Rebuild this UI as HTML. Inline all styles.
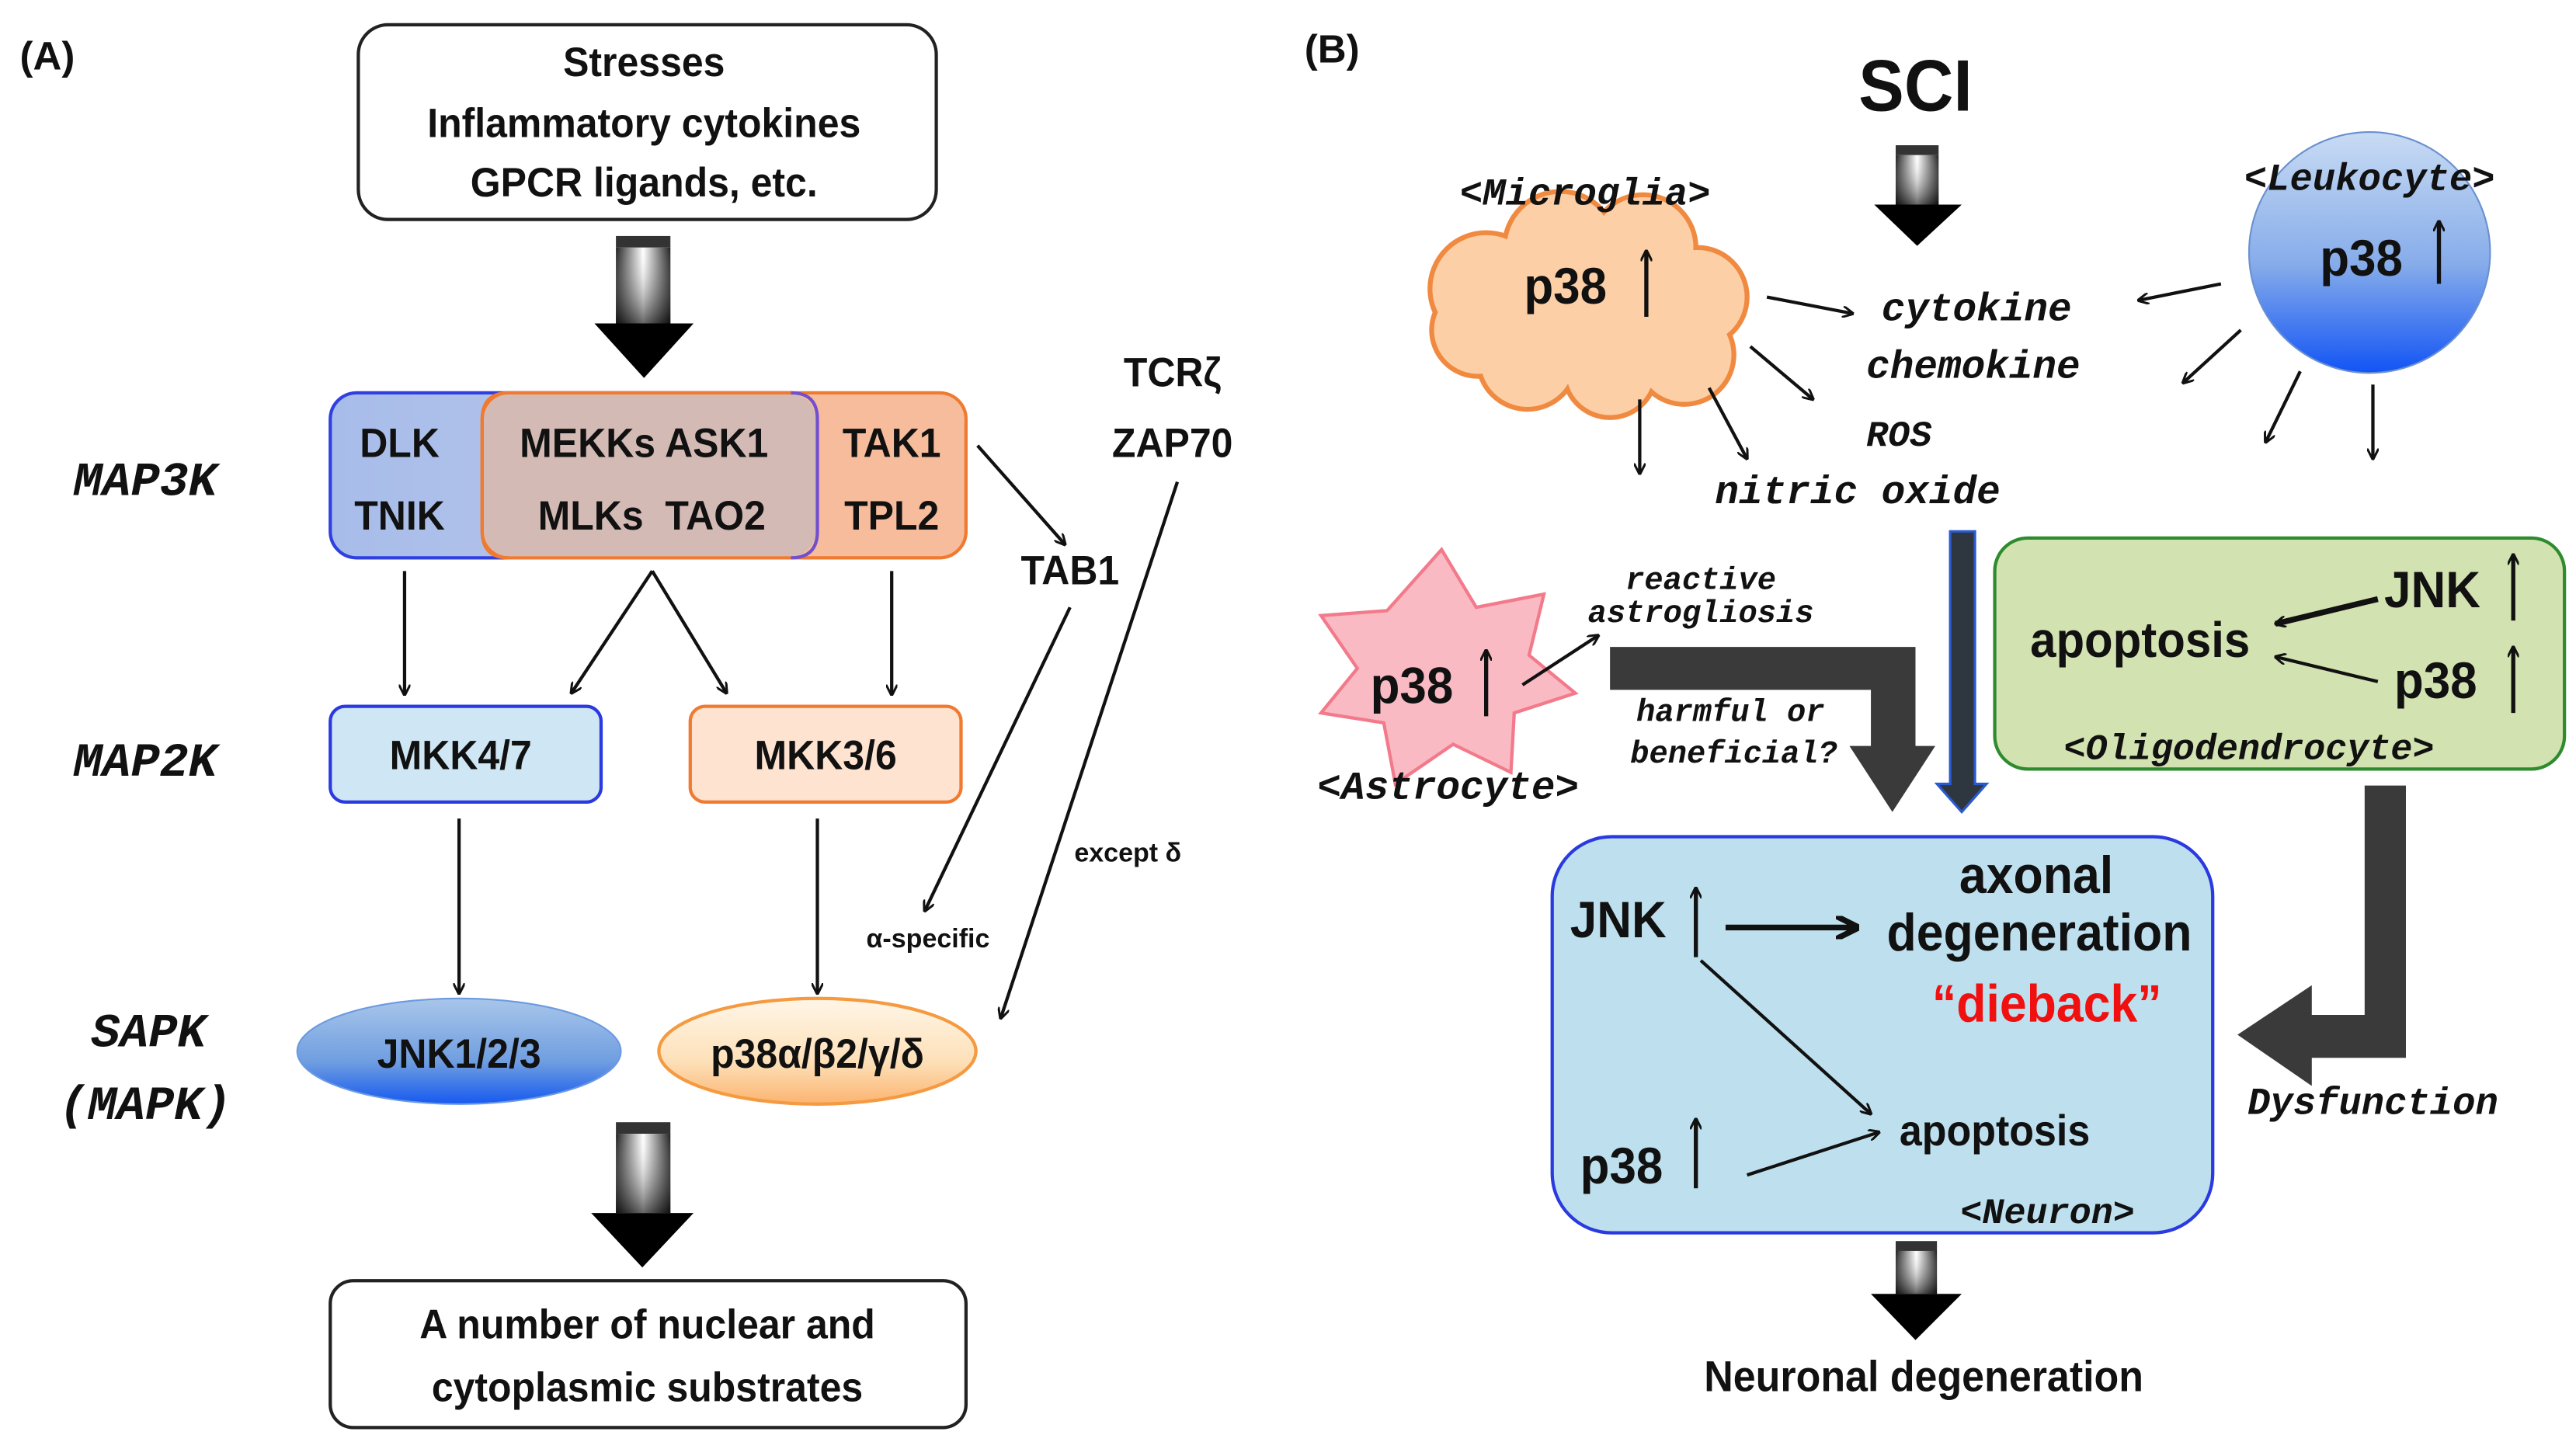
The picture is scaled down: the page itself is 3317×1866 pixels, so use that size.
<!DOCTYPE html>
<html><head><meta charset="utf-8"><style>
html,body{margin:0;padding:0;background:#fff}
svg{display:block}
.s{font-family:"Liberation Sans",sans-serif;font-weight:bold;fill:#111;text-anchor:middle}
.m{font-family:"Liberation Mono",monospace;font-weight:bold;font-style:italic;fill:#111;text-anchor:middle}
</style></head><body>
<svg width="3317" height="1866" viewBox="0 0 1560 878" preserveAspectRatio="none" xmlns="http://www.w3.org/2000/svg">
<defs>
<marker id="ah" viewBox="0 0 10 10" refX="9" refY="5" markerWidth="7" markerHeight="7" orient="auto-start-reverse" markerUnits="userSpaceOnUse"><path d="M0,0 L10,5 L0,10" fill="none" stroke="#111" stroke-width="2"/></marker>
<marker id="ah2" viewBox="0 0 10 10" refX="8" refY="5" markerWidth="14" markerHeight="14" orient="auto" markerUnits="userSpaceOnUse"><path d="M0,0 L10,5 L0,10" fill="none" stroke="#111" stroke-width="2.5"/></marker>
<linearGradient id="sh" x1="0" x2="1" y1="0" y2="0"><stop offset="0" stop-color="#222"/><stop offset="0.5" stop-color="#fff"/><stop offset="1" stop-color="#222"/></linearGradient>
<linearGradient id="shv" x1="0" x2="0" y1="0" y2="1"><stop offset="0" stop-color="#fff" stop-opacity="0"/><stop offset="1" stop-color="#000" stop-opacity="0.6"/></linearGradient>
<linearGradient id="jnk" x1="0" x2="0" y1="0" y2="1"><stop offset="0" stop-color="#a9c6ea"/><stop offset="0.6" stop-color="#6f9ee0"/><stop offset="1" stop-color="#1659f0"/></linearGradient>
<linearGradient id="p38" x1="0" x2="0" y1="0" y2="1"><stop offset="0" stop-color="#fff6e8"/><stop offset="0.6" stop-color="#fde0b8"/><stop offset="1" stop-color="#fbb470"/></linearGradient>
<linearGradient id="leu" x1="0" x2="0" y1="0" y2="1"><stop offset="0" stop-color="#c8dbf3"/><stop offset="0.55" stop-color="#86acea"/><stop offset="1" stop-color="#1254f5"/></linearGradient>
<linearGradient id="blu" x1="0" x2="1" y1="0" y2="0"><stop offset="0" stop-color="#a8bcea"/><stop offset="1" stop-color="#bccbe8"/></linearGradient>
</defs>

<!-- Panel A -->
<text x="12" y="42" class="s" style="text-anchor:start" font-size="24">(A)</text>
<rect x="217" y="15" width="350" height="118" rx="18" fill="#fff" stroke="#222" stroke-width="2"/>
<g transform="translate(390,0) scale(0.94,1)">
<text x="0" y="46" class="s" font-size="25">Stresses</text>
<text x="0" y="83" class="s" font-size="25">Inflammatory cytokines</text>
<text x="0" y="119" class="s" font-size="25">GPCR ligands, etc.</text>
</g>

<g>
<rect x="373" y="143" width="33" height="7" fill="#333"/>
<rect x="373" y="150" width="33" height="46" fill="url(#sh)"/>
<rect x="373" y="150" width="33" height="46" fill="url(#shv)"/>
<polygon points="360,196 420,196 390,229" fill="#000"/>
</g>

<text x="88" y="300" class="m" font-size="29">MAP3K</text>
<text x="88" y="470" class="m" font-size="29">MAP2K</text>
<text x="90" y="634" class="m" font-size="29">SAPK</text>
<text x="88" y="678" class="m" font-size="29">(MAPK)</text>

<rect x="200" y="238" width="295" height="100" rx="16" fill="url(#blu)" stroke="#3040e0" stroke-width="2"/>
<rect x="292" y="238" width="293" height="100" rx="16" fill="#f6bc9c" stroke="#f07a30" stroke-width="2"/>
<rect x="293" y="239" width="201" height="98" rx="15" fill="#d4bab4"/>
<path d="M479,238 Q495,238 495,254 L495,322 Q495,338 479,338" fill="none" stroke="#7050d0" stroke-width="2"/>
<path d="M308,238 Q292,238 292,254 L292,322 Q292,338 308,338" fill="none" stroke="#f07a30" stroke-width="2"/>
<g transform="translate(242,0) scale(0.94,1)"><text x="0" y="277" class="s" font-size="25">DLK</text><text x="0" y="321" class="s" font-size="25">TNIK</text></g>
<g transform="translate(390,0) scale(0.94,1)"><text x="0" y="277" class="s" font-size="25">MEKKs ASK1</text><text x="5" y="321" class="s" font-size="25">MLKs&#160;&#160;TAO2</text></g>
<g transform="translate(540,0) scale(0.94,1)"><text x="0" y="277" class="s" font-size="25">TAK1</text><text x="0" y="321" class="s" font-size="25">TPL2</text></g>
<g transform="translate(710,0) scale(0.94,1)"><text x="0" y="234" class="s" font-size="25">TCRζ</text><text x="0" y="277" class="s" font-size="25">ZAP70</text></g>
<g transform="translate(648,0) scale(0.94,1)"><text x="0" y="354" class="s" font-size="25">TAB1</text></g>

<g stroke="#111" stroke-width="2" fill="none" marker-end="url(#ah)">
<line x1="592" y1="270" x2="645" y2="330"/>
<line x1="245" y1="346" x2="245" y2="421"/>
<line x1="395" y1="346" x2="346" y2="420"/>
<line x1="395" y1="346" x2="440" y2="420"/>
<line x1="540" y1="346" x2="540" y2="421"/>
<line x1="278" y1="496" x2="278" y2="602"/>
<line x1="495" y1="496" x2="495" y2="602"/>
<line x1="648" y1="368" x2="560" y2="552"/>
<line x1="713" y1="292" x2="606" y2="617"/>
</g>

<rect x="200" y="428" width="164" height="58" rx="9" fill="#cfe6f5" stroke="#2a3ae0" stroke-width="2"/>
<g transform="translate(279,0) scale(0.94,1)"><text x="0" y="466" class="s" font-size="25">MKK4/7</text></g>
<rect x="418" y="428" width="164" height="58" rx="9" fill="#fde3d0" stroke="#f07a30" stroke-width="2"/>
<g transform="translate(500,0) scale(0.94,1)"><text x="0" y="466" class="s" font-size="25">MKK3/6</text></g>

<text x="683" y="522" class="s" font-size="16">except δ</text>
<text x="562" y="574" class="s" font-size="16">α-specific</text>

<ellipse cx="278" cy="637" rx="98" ry="32" fill="url(#jnk)" stroke="#6a9ae0" stroke-width="1"/>
<g transform="translate(278,0) scale(0.94,1)"><text x="0" y="647" class="s" font-size="25">JNK1/2/3</text></g>
<ellipse cx="495" cy="637" rx="96" ry="32" fill="url(#p38)" stroke="#f59a40" stroke-width="2"/>
<g transform="translate(495,0) scale(0.94,1)"><text x="0" y="647" class="s" font-size="25">p38α/β2/γ/δ</text></g>

<g>
<rect x="373" y="680" width="33" height="7" fill="#333"/>
<rect x="373" y="687" width="33" height="48" fill="url(#sh)"/>
<rect x="373" y="687" width="33" height="48" fill="url(#shv)"/>
<polygon points="358,735 420,735 389,768" fill="#000"/>
</g>
<rect x="200" y="776" width="385" height="89" rx="14" fill="#fff" stroke="#222" stroke-width="2"/>
<g transform="translate(392,0) scale(0.94,1)">
<text x="0" y="811" class="s" font-size="25">A number of nuclear and</text>
<text x="0" y="849" class="s" font-size="25">cytoplasmic substrates</text>
</g>

<!-- Panel B -->
<text x="790" y="38" class="s" style="text-anchor:start" font-size="24">(B)</text>
<g transform="translate(1160,0) scale(0.94,1)"><text x="0" y="67" class="s" font-size="44">SCI</text></g>
<g>
<rect x="1148" y="88" width="26" height="6" fill="#333"/>
<rect x="1148" y="94" width="26" height="30" fill="url(#sh)"/>
<rect x="1148" y="94" width="26" height="30" fill="url(#shv)"/>
<polygon points="1135,124 1188,124 1161,149" fill="#000"/>
</g>

<!-- microglia cloud -->
<g stroke="#f08a40" stroke-width="3" fill="#fdcfa6">
<circle cx="900" cy="175" r="34"/><circle cx="945" cy="150" r="34"/><circle cx="995" cy="150" r="32"/>
<circle cx="1028" cy="180" r="30"/><circle cx="1020" cy="215" r="30"/><circle cx="975" cy="225" r="28"/>
<circle cx="925" cy="218" r="30"/><circle cx="895" cy="200" r="28"/>
</g>
<g fill="#fdcfa6">
<circle cx="900" cy="175" r="32.5"/><circle cx="945" cy="150" r="32.5"/><circle cx="995" cy="150" r="30.5"/>
<circle cx="1028" cy="180" r="28.5"/><circle cx="1020" cy="215" r="28.5"/><circle cx="975" cy="225" r="26.5"/>
<circle cx="925" cy="218" r="28.5"/><circle cx="895" cy="200" r="26.5"/><circle cx="960" cy="188" r="45"/>
</g>
<text x="960" y="124" class="m" font-size="23">&lt;Microglia&gt;</text>
<g transform="translate(948,0) scale(0.94,1)"><text x="0" y="184" class="s" font-size="31">p38</text></g>
<line x1="997" y1="192" x2="997" y2="152" stroke="#111" stroke-width="2.5" marker-end="url(#ah)"/>

<g stroke="#111" stroke-width="2" fill="none" marker-end="url(#ah)">
<line x1="1070" y1="180" x2="1122" y2="190"/>
<line x1="1060" y1="210" x2="1098" y2="242"/>
<line x1="1035" y1="235" x2="1058" y2="278"/>
<line x1="993" y1="242" x2="993" y2="287"/>
<line x1="1345" y1="172" x2="1295" y2="182"/>
<line x1="1357" y1="200" x2="1322" y2="232"/>
<line x1="1393" y1="225" x2="1372" y2="268"/>
<line x1="1437" y1="233" x2="1437" y2="278"/>
</g>
<text x="1197" y="194" class="m" font-size="24">cytokine</text>
<text x="1195" y="229" class="m" font-size="24">chemokine</text>
<text x="1150" y="270" class="m" font-size="22">ROS</text>
<text x="1125" y="305" class="m" font-size="24">nitric oxide</text>

<circle cx="1435" cy="153" r="73" fill="url(#leu)" stroke="#6a90d0" stroke-width="1"/>
<text x="1435" y="115" class="m" font-size="23">&lt;Leukocyte&gt;</text>
<g transform="translate(1430,0) scale(0.94,1)"><text x="0" y="167" class="s" font-size="31">p38</text></g>
<line x1="1477" y1="172" x2="1477" y2="134" stroke="#111" stroke-width="2.5" marker-end="url(#ah)"/>

<!-- blue-dark down arrow -->
<path d="M1181,322 L1196,322 L1196,475 L1203,475 L1188,492 L1173,475 L1181,475 Z" fill="#2e3640" stroke="#2a5ad0" stroke-width="1.5"/>

<!-- astrocyte star -->
<polygon points="873,333 894,368 935,360 926,397 954,420 917,432 915,468 880,451 845,475 838,438 800,432 822,405 800,373 840,370" fill="#f9bac3" stroke="#f27a8a" stroke-width="2"/>
<g transform="translate(855,0) scale(0.94,1)"><text x="0" y="426" class="s" font-size="31">p38</text></g>
<line x1="900" y1="434" x2="900" y2="394" stroke="#111" stroke-width="2.5" marker-end="url(#ah)"/>
<line x1="922" y1="415" x2="968" y2="385" stroke="#111" stroke-width="2" marker-end="url(#ah)"/>
<text x="877" y="484" class="m" font-size="24">&lt;Astrocyte&gt;</text>
<text x="1030" y="357" class="m" font-size="19">reactive</text>
<text x="1030" y="377" class="m" font-size="19">astrogliosis</text>

<path d="M975,392 L1160,392 L1160,452 L1172,452 L1146,492 L1120,452 L1133,452 L1133,418 L975,418 Z" fill="#3a3a3a"/>
<text x="1048" y="437" class="m" font-size="19">harmful or</text>
<text x="1050" y="462" class="m" font-size="19">beneficial?</text>

<!-- oligodendrocyte -->
<rect x="1208" y="326" width="345" height="140" rx="20" fill="#d2e2b0" stroke="#2e8b2e" stroke-width="2"/>
<g transform="translate(1296,0) scale(0.94,1)"><text x="0" y="398" class="s" font-size="30">apoptosis</text></g>
<g transform="translate(1473,0) scale(0.94,1)"><text x="0" y="368" class="s" font-size="31">JNK</text></g>
<g transform="translate(1475,0) scale(0.94,1)"><text x="0" y="423" class="s" font-size="31">p38</text></g>
<line x1="1522" y1="376" x2="1522" y2="336" stroke="#111" stroke-width="2.5" marker-end="url(#ah)"/>
<line x1="1522" y1="432" x2="1522" y2="392" stroke="#111" stroke-width="2.5" marker-end="url(#ah)"/>
<line x1="1440" y1="363" x2="1378" y2="378" stroke="#111" stroke-width="3.5" marker-end="url(#ah)"/>
<line x1="1440" y1="413" x2="1378" y2="398" stroke="#111" stroke-width="2" marker-end="url(#ah)"/>
<text x="1362" y="460" class="m" font-size="22">&lt;Oligodendrocyte&gt;</text>

<!-- dysfunction arrow -->
<path d="M1432,476 L1457,476 L1457,641 L1400,641 L1400,658 L1355,627 L1400,597 L1400,615 L1432,615 Z" fill="#3a3a3a"/>
<text x="1437" y="675" class="m" font-size="23">Dysfunction</text>

<!-- neuron -->
<rect x="940" y="507" width="400" height="240" rx="36" fill="#bee0ee" stroke="#2a3ae0" stroke-width="2"/>
<g transform="translate(980,0) scale(0.94,1)"><text x="0" y="568" class="s" font-size="31">JNK</text></g>
<line x1="1027" y1="580" x2="1027" y2="538" stroke="#111" stroke-width="2.5" marker-end="url(#ah)"/>
<line x1="1045" y1="562" x2="1123" y2="562" stroke="#111" stroke-width="3.5" marker-end="url(#ah2)"/>
<g transform="translate(1235,0) scale(0.92,1)">
<text x="-2" y="541" class="s" font-size="32">axonal</text>
<text x="0" y="576" class="s" font-size="32">degeneration</text>
<text x="5" y="619" class="s" font-size="32" style="fill:#f01010">“dieback”</text>
</g>
<line x1="1030" y1="582" x2="1133" y2="675" stroke="#111" stroke-width="2" marker-end="url(#ah)"/>
<g transform="translate(1208,0) scale(0.94,1)"><text x="0" y="694" class="s" font-size="26">apoptosis</text></g>
<g transform="translate(982,0) scale(0.94,1)"><text x="0" y="717" class="s" font-size="31">p38</text></g>
<line x1="1027" y1="720" x2="1027" y2="678" stroke="#111" stroke-width="2.5" marker-end="url(#ah)"/>
<line x1="1058" y1="712" x2="1138" y2="686" stroke="#111" stroke-width="2" marker-end="url(#ah)"/>
<text x="1240" y="741" class="m" font-size="22">&lt;Neuron&gt;</text>

<g>
<rect x="1148" y="752" width="25" height="6" fill="#333"/>
<rect x="1148" y="758" width="25" height="26" fill="url(#sh)"/>
<rect x="1148" y="758" width="25" height="26" fill="url(#shv)"/>
<polygon points="1133,784 1188,784 1160,812" fill="#000"/>
</g>
<g transform="translate(1165,0) scale(0.94,1)"><text x="0" y="843" class="s" font-size="26">Neuronal degeneration</text></g>
</svg>
</body></html>
